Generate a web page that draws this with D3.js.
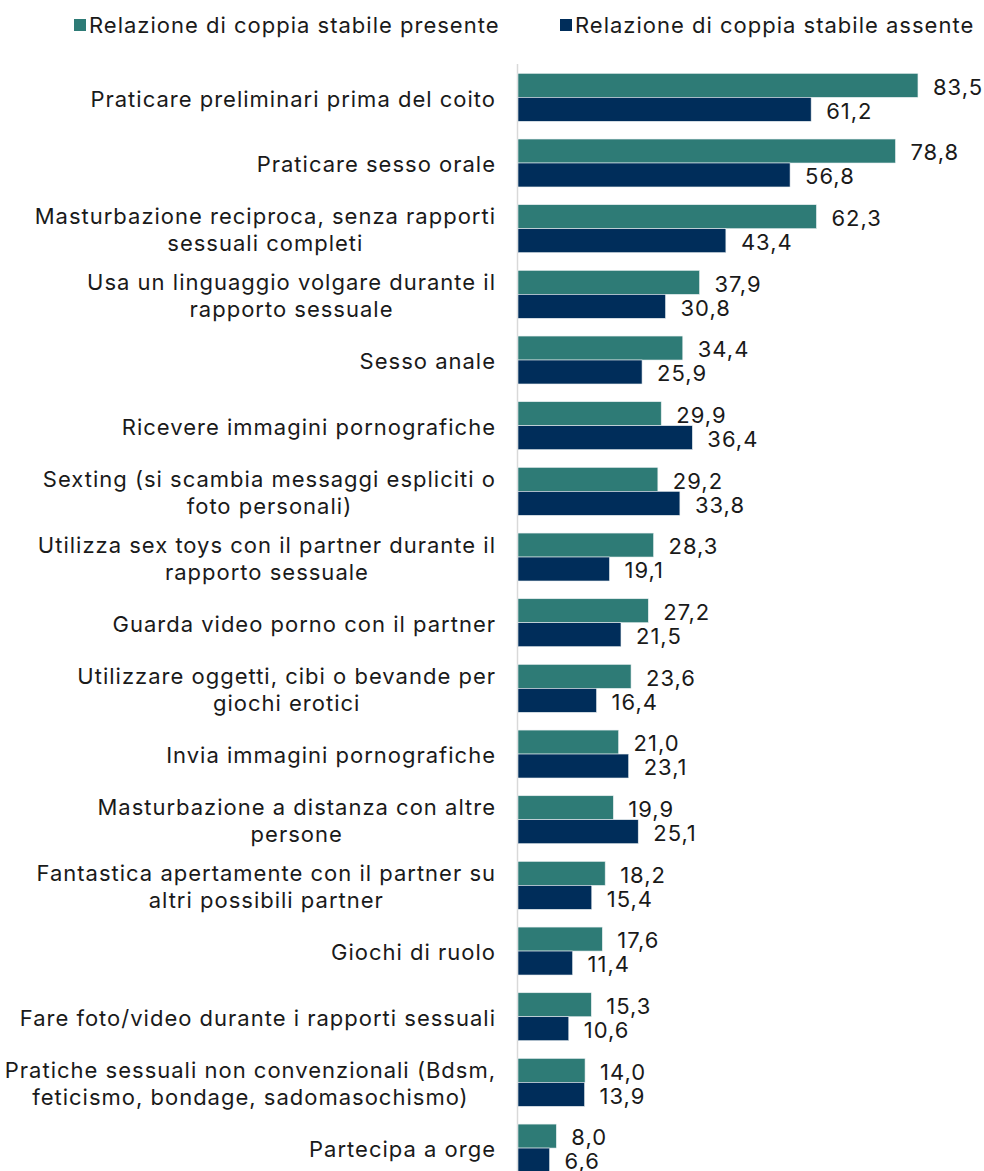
<!DOCTYPE html>
<html>
<head>
<meta charset="utf-8">
<script src="https://cdn.jsdelivr.net/npm/d3@7"></script>
<style>
body { margin: 0; background: #fff; }
text { font-family: Inter, "Open Sans", sans-serif; fill: #1a1a1a; font-size: 22px; letter-spacing: 1px; }
</style>
</head>
<body>
<div id="chart"></div>
<script>
var categories = [
  "Praticare preliminari prima del coito",
  "Praticare sesso orale",
  "Masturbazione reciproca, senza rapporti\nsessuali completi",
  "Usa un linguaggio volgare durante il\nrapporto sessuale",
  "Sesso anale",
  "Ricevere immagini pornografiche",
  "Sexting (si scambia messaggi espliciti o\nfoto personali)",
  "Utilizza sex toys con il partner durante il\nrapporto sessuale",
  "Guarda video porno con il partner",
  "Utilizzare oggetti, cibi o bevande per\ngiochi erotici",
  "Invia immagini pornografiche",
  "Masturbazione a distanza con altre\npersone",
  "Fantastica apertamente con il partner su\naltri possibili partner",
  "Giochi di ruolo",
  "Fare foto/video durante i rapporti sessuali",
  "Pratiche sessuali non convenzionali (Bdsm,\nfeticismo, bondage, sadomasochismo)",
  "Partecipa a orge"
];
var seriesNames = ["Relazione di coppia stabile presente", "Relazione di coppia stabile assente"];
var presente = [83.5, 78.8, 62.3, 37.9, 34.4, 29.9, 29.2, 28.3, 27.2, 23.6, 21.0, 19.9, 18.2, 17.6, 15.3, 14.0, 8.0];
var assente = [61.2, 56.8, 43.4, 30.8, 25.9, 36.4, 33.8, 19.1, 21.5, 16.4, 23.1, 25.1, 15.4, 11.4, 10.6, 13.9, 6.6];
var colors = ["#2e7b76", "#002d5a"];

var W = 984, H = 1171;
var svg = d3.select("#chart").append("svg").attr("width", W).attr("height", H);

var data = categories.map(function(c, i) {
  return { cat: c, values: [presente[i], assente[i]] };
});

var y = d3.scaleBand().domain(categories).range([64.5, 64.5 + 17 * 65.67])
  .paddingInner(0.27).paddingOuter(0.135);
var ySub = d3.scaleBand().domain([0, 1]).range([0, y.bandwidth()]);
var x = d3.scaleLinear().domain([0, 100]).range([518, 997]);

// axis line
svg.append("line")
  .attr("x1", x(0) - 0.5).attr("x2", x(0) - 0.5)
  .attr("y1", 64).attr("y2", H)
  .attr("stroke", "#d9d9d9").attr("stroke-width", 1.5);

var groups = svg.selectAll(".grp").data(data).enter().append("g")
  .attr("class", "grp")
  .attr("transform", function(d) { return "translate(0," + y(d.cat) + ")"; });

groups.selectAll("rect").data(function(d) { return d.values; }).enter().append("rect")
  .attr("x", x(0))
  .attr("y", function(d, i) { return ySub(i); })
  .attr("width", function(d) { return x(d) - x(0); })
  .attr("height", ySub.bandwidth())
  .attr("fill", function(d, i) { return colors[i]; })
  .attr("stroke", "#e8eef0").attr("stroke-width", 0.6);

groups.selectAll(".val").data(function(d) { return d.values; }).enter().append("text")
  .attr("class", "val")
  .attr("x", function(d) { return x(d) + 15; })
  .attr("y", function(d, i) { return ySub(i) + ySub.bandwidth() / 2 + 1.5; })
  .attr("dy", "0.35em")
  .text(function(d) { return d.toFixed(1).replace(".", ","); });

// category labels, centred block, right edge at 495
groups.each(function(d) {
  var lines = d.cat.split("\n");
  var g = d3.select(this);
  var mid = y.bandwidth() / 2 + 1.5;
  var t = g.selectAll(".lab").data(lines).enter().append("text")
    .attr("class", "lab")
    .attr("y", function(l, i) { return mid + (i - (lines.length - 1) / 2) * 27; })
    .attr("dy", "0.35em")
    .text(function(l) { return l; });
  var maxW = 0;
  t.each(function() { maxW = Math.max(maxW, this.getComputedTextLength()); });
  t.attr("text-anchor", "middle").attr("x", 496 - maxW / 2);
});

// legend
var legX = [74, 560];
var leg = svg.selectAll(".leg").data(seriesNames).enter().append("g")
  .attr("class", "leg")
  .attr("transform", function(d, i) { return "translate(" + legX[i] + ",19)"; });
leg.append("rect").attr("width", 12).attr("height", 12)
  .attr("fill", function(d, i) { return colors[i]; });
leg.append("text").attr("x", 15).attr("y", 6).attr("dy", "0.35em")
  .text(function(d) { return d; });
</script>
</body>
</html>
